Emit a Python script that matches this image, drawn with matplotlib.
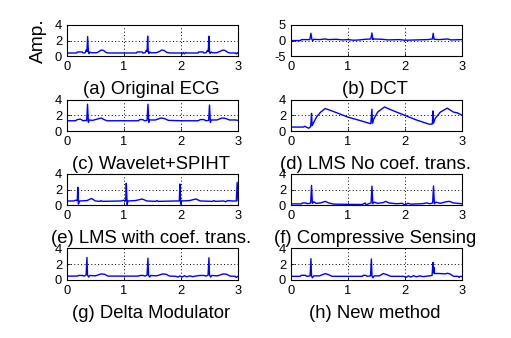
import matplotlib
matplotlib.use("Agg")
import matplotlib.pyplot as plt

plt.rcParams['font.family'] = ['Liberation Sans', 'DejaVu Sans']
plt.rcParams['axes.unicode_minus'] = False

# ---- data (time in s, amplitude) ----
ecg_original = [
    (0.00, 0.42), (0.17, 0.42), (0.18, 0.55), (0.27, 0.55), (0.28, 0.42), (0.32, 0.45),
    (0.335, 0.80), (0.350, 0.60), (0.362, 2.50), (0.375, 0.60), (0.385, 0.35), (0.40, 0.55),
    (0.42, 0.45), (0.52, 0.45), (0.56, 0.60), (0.60, 0.80), (0.64, 0.75), (0.68, 0.50),
    (0.72, 0.42), (1.22, 0.42), (1.23, 0.55), (1.32, 0.55), (1.33, 0.42), (1.37, 0.45),
    (1.39, 0.75), (1.405, 0.60), (1.415, 2.55), (1.425, 0.60), (1.435, 0.35), (1.45, 0.55),
    (1.47, 0.45), (1.56, 0.45), (1.62, 0.60), (1.66, 0.80), (1.70, 0.75), (1.75, 0.50),
    (1.80, 0.42), (2.00, 0.42), (2.02, 0.30), (2.04, 0.50), (2.06, 0.32), (2.08, 0.48),
    (2.10, 0.42), (2.30, 0.42), (2.31, 0.55), (2.39, 0.55), (2.40, 0.42), (2.44, 0.45),
    (2.465, 0.75), (2.478, 0.60), (2.49, 2.55), (2.50, 0.60), (2.51, 0.35), (2.53, 0.55),
    (2.55, 0.45), (2.62, 0.45), (2.68, 0.60), (2.73, 0.78), (2.77, 0.75), (2.82, 0.50),
    (2.86, 0.42), (2.96, 0.42), (2.97, 0.30), (2.99, 0.45), (3.00, 0.42),
]

ecg_dct = [
    (0.00, 0.0), (0.17, 0.0), (0.18, 0.3), (0.33, 0.3), (0.35, 2.3), (0.365, 0.5),
    (0.38, -0.1), (0.40, 0.4), (0.50, 0.3), (0.60, 0.5), (0.65, 0.3), (0.80, 0.4),
    (0.90, 0.2), (1.00, 0.3), (1.10, 0.1), (1.20, 0.2), (1.30, 0.4), (1.40, 0.5),
    (1.42, 2.4), (1.435, 0.3), (1.45, 0.5), (1.60, 0.4), (1.70, 0.2), (1.90, 0.3),
    (2.00, 0.1), (2.20, 0.2), (2.40, 0.3), (2.48, 0.5), (2.495, 2.3), (2.51, 0.4),
    (2.60, 0.3), (2.75, 0.5), (2.80, 0.2), (3.00, 0.3),
]

ecg_wavelet = [
    (0.00, 1.30), (0.15, 1.30), (0.18, 1.45), (0.24, 1.50), (0.28, 1.30), (0.33, 1.35),
    (0.345, 1.30), (0.36, 3.40), (0.375, 1.10), (0.39, 1.40), (0.45, 1.35), (0.55, 1.55),
    (0.60, 1.65), (0.65, 1.45), (0.70, 1.30), (1.00, 1.30), (1.25, 1.30), (1.28, 1.45),
    (1.33, 1.45), (1.36, 1.30), (1.405, 1.35), (1.42, 3.40), (1.435, 1.10), (1.45, 1.40),
    (1.55, 1.40), (1.65, 1.65), (1.70, 1.60), (1.78, 1.35), (2.00, 1.30), (2.30, 1.30),
    (2.34, 1.45), (2.40, 1.45), (2.44, 1.30), (2.485, 1.35), (2.50, 3.30), (2.515, 1.10),
    (2.53, 1.40), (2.63, 1.40), (2.72, 1.65), (2.78, 1.60), (2.85, 1.40), (2.95, 1.40),
    (3.00, 1.35),
]

ecg_lms_nocoef = [
    (0.00, 0.50), (0.22, 0.50), (0.24, 0.60), (0.28, 0.45), (0.31, 0.35), (0.345, 0.55),
    (0.36, 2.24), (0.37, 0.70), (0.385, 0.90), (0.45, 1.80), (0.52, 2.40), (0.60, 2.85),
    (0.70, 2.60), (1.00, 1.76), (1.20, 1.35), (1.40, 0.92), (1.42, 2.77), (1.43, 1.00),
    (1.45, 1.50), (1.52, 2.40), (1.64, 3.05), (1.75, 2.70), (2.00, 1.98), (2.20, 1.40),
    (2.43, 0.85), (2.48, 0.90), (2.49, 2.55), (2.50, 1.00), (2.53, 1.60), (2.62, 2.40),
    (2.74, 2.90), (2.85, 2.40), (2.92, 2.30), (3.00, 2.00),
]

ecg_lms_coef = [
    (0.00, 0.55), (0.12, 0.55), (0.15, 0.65), (0.18, 0.60), (0.19, 2.30), (0.20, 0.15),
    (0.22, 0.55), (0.35, 0.60), (0.43, 0.86), (0.50, 0.55), (0.58, 0.50), (0.60, 0.60),
    (0.62, 0.50), (0.95, 0.55), (1.00, 0.65), (1.03, 0.55), (1.04, 2.80), (1.055, 0.10),
    (1.07, 0.55), (1.20, 0.60), (1.32, 0.80), (1.40, 0.55), (1.55, 0.50), (1.58, 0.60),
    (1.60, 0.50), (1.92, 0.55), (1.97, 0.55), (1.98, 2.70), (1.995, 0.15), (2.01, 0.55),
    (2.15, 0.60), (2.26, 0.80), (2.34, 0.55), (2.55, 0.50), (2.58, 0.60), (2.60, 0.50),
    (2.75, 0.55), (2.78, 0.45), (2.82, 0.60), (2.90, 0.55), (2.97, 0.55), (2.985, 2.90),
    (3.00, 0.60),
]

ecg_cs = [
    (0.00, 0.18), (0.18, 0.18), (0.20, 0.30), (0.26, 0.30), (0.29, 0.20), (0.33, 0.25),
    (0.345, 0.30), (0.36, 2.53), (0.375, 0.25), (0.40, 0.45), (0.44, 0.25), (0.52, 0.30),
    (0.60, 0.50), (0.66, 0.30), (0.75, 0.15), (1.00, 0.12), (1.25, 0.10), (1.30, 0.30),
    (1.32, 0.05), (1.36, 0.20), (1.405, 0.30), (1.42, 2.44), (1.435, 0.20), (1.46, 0.40),
    (1.52, 0.25), (1.62, 0.35), (1.66, 0.50), (1.72, 0.30), (1.85, 0.20), (1.95, 0.25),
    (2.00, 0.05), (2.05, 0.25), (2.10, 0.15), (2.30, 0.20), (2.38, 0.30), (2.44, 0.20),
    (2.485, 0.30), (2.50, 2.44), (2.515, 0.20), (2.54, 0.40), (2.62, 0.25), (2.72, 0.45),
    (2.78, 0.50), (2.85, 0.30), (3.00, 0.20),
]

ecg_delta = [
    (0.00, 0.47), (0.18, 0.47), (0.20, 0.55), (0.27, 0.55), (0.30, 0.47), (0.335, 0.60),
    (0.35, 2.84), (0.36, 0.60), (0.38, 0.35), (0.40, 0.55), (0.50, 0.50), (0.60, 0.75),
    (0.66, 0.70), (0.72, 0.47), (1.25, 0.47), (1.28, 0.55), (1.34, 0.55), (1.37, 0.47),
    (1.405, 0.60), (1.42, 2.75), (1.43, 0.60), (1.45, 0.35), (1.47, 0.55), (1.57, 0.50),
    (1.68, 0.75), (1.74, 0.70), (1.80, 0.47), (1.90, 0.45), (1.95, 0.35), (1.98, 0.50),
    (2.02, 0.35), (2.06, 0.52), (2.10, 0.38), (2.15, 0.50), (2.20, 0.40), (2.25, 0.47),
    (2.33, 0.55), (2.40, 0.55), (2.44, 0.47), (2.475, 0.60), (2.49, 2.80), (2.50, 0.60),
    (2.52, 0.35), (2.54, 0.55), (2.64, 0.50), (2.74, 0.75), (2.80, 0.70), (2.86, 0.47),
    (2.95, 0.45), (2.97, 0.30), (3.00, 0.45),
]

ecg_new = [
    (0.00, 0.44), (0.16, 0.44), (0.18, 0.57), (0.25, 0.57), (0.28, 0.44), (0.335, 0.50),
    (0.35, 2.68), (0.36, 0.50), (0.375, 0.26), (0.40, 0.50), (0.50, 0.50), (0.60, 0.79),
    (0.66, 0.65), (0.72, 0.44), (1.25, 0.44), (1.27, 0.57), (1.31, 0.57), (1.34, 0.44),
    (1.395, 0.50), (1.41, 2.64), (1.42, 0.50), (1.435, 0.26), (1.46, 0.50), (1.55, 0.50),
    (1.62, 0.80), (1.68, 0.65), (1.75, 0.44), (1.98, 0.44), (2.02, 0.30), (2.06, 0.50),
    (2.10, 0.35), (2.15, 0.52), (2.20, 0.38), (2.26, 0.50), (2.32, 0.40), (2.36, 0.44),
    (2.475, 0.55), (2.49, 2.20), (2.50, 0.90), (2.505, 1.60), (2.515, 0.80), (2.60, 0.80),
    (2.70, 0.75), (2.75, 0.83), (2.80, 0.70), (2.85, 0.45), (2.93, 0.44), (2.95, 0.30),
    (2.97, 0.45), (3.00, 0.40),
]

panel_series = [ecg_original, ecg_dct, ecg_wavelet, ecg_lms_nocoef,
                ecg_lms_coef, ecg_cs, ecg_delta, ecg_new]
panel_titles = ["(a) Original ECG", "(b) DCT", "(c) Wavelet+SPIHT",
                "(d) LMS No coef. trans.", "(e) LMS with coef. trans.",
                "(f) Compressive Sensing", "(g) Delta Modulator", "(h) New method"]
x_ticks = [0, 1, 2, 3]
y_ticks_default = [0, 2, 4]
y_ticks_dct = [-5, 0, 5]

# ---- layout ----
W, H = 511, 338
fig = plt.figure(figsize=(W / 100, H / 100), dpi=100)
fig.patch.set_facecolor('white')

col_left = [67, 291]
ax_w = 171
row_top = [24.8, 99.5, 173.8, 248.3]
ax_h = 31.5

for i, (data, title) in enumerate(zip(panel_series, panel_titles)):
    r, c = divmod(i, 2)
    left = col_left[c] / W
    bottom = 1 - (row_top[r] + ax_h) / H
    ax = fig.add_axes([left, bottom, ax_w / W, ax_h / H])
    t = [p[0] for p in data]
    v = [p[1] for p in data]
    ax.plot(t, v, color='#0000ff', lw=1.0)
    ax.set_xlim(0, 3)
    if i == 1:
        ax.set_ylim(-5, 5)
        ax.set_yticks(y_ticks_dct)
    else:
        ax.set_ylim(0, 4)
        ax.set_yticks(y_ticks_default)
    ax.set_xticks(x_ticks)
    ax.grid(True, color='black', linestyle=(0, (1, 2.5)), lw=0.7)
    ax.tick_params(direction='in', length=2.5, width=0.6, pad=3.5,
                   labelsize=9.3, colors='black')
    for s in ax.spines.values():
        s.set_linewidth(0.8)
        s.set_color('black')
    ax.annotate(title, xy=(0.5, 0), xycoords='axes fraction',
                xytext=(-1.5 * 0.72, -38 * 0.72), textcoords='offset points',
                ha='center', va='baseline', fontsize=13.3)
    if i == 0:
        ax.annotate("Amp.", xy=(0, 0.5), xycoords='axes fraction',
                    xytext=(-29 * 0.72, 0), textcoords='offset points',
                    ha='center', va='center', rotation=90, fontsize=13.8)

fig.savefig("out.png", dpi=100)
